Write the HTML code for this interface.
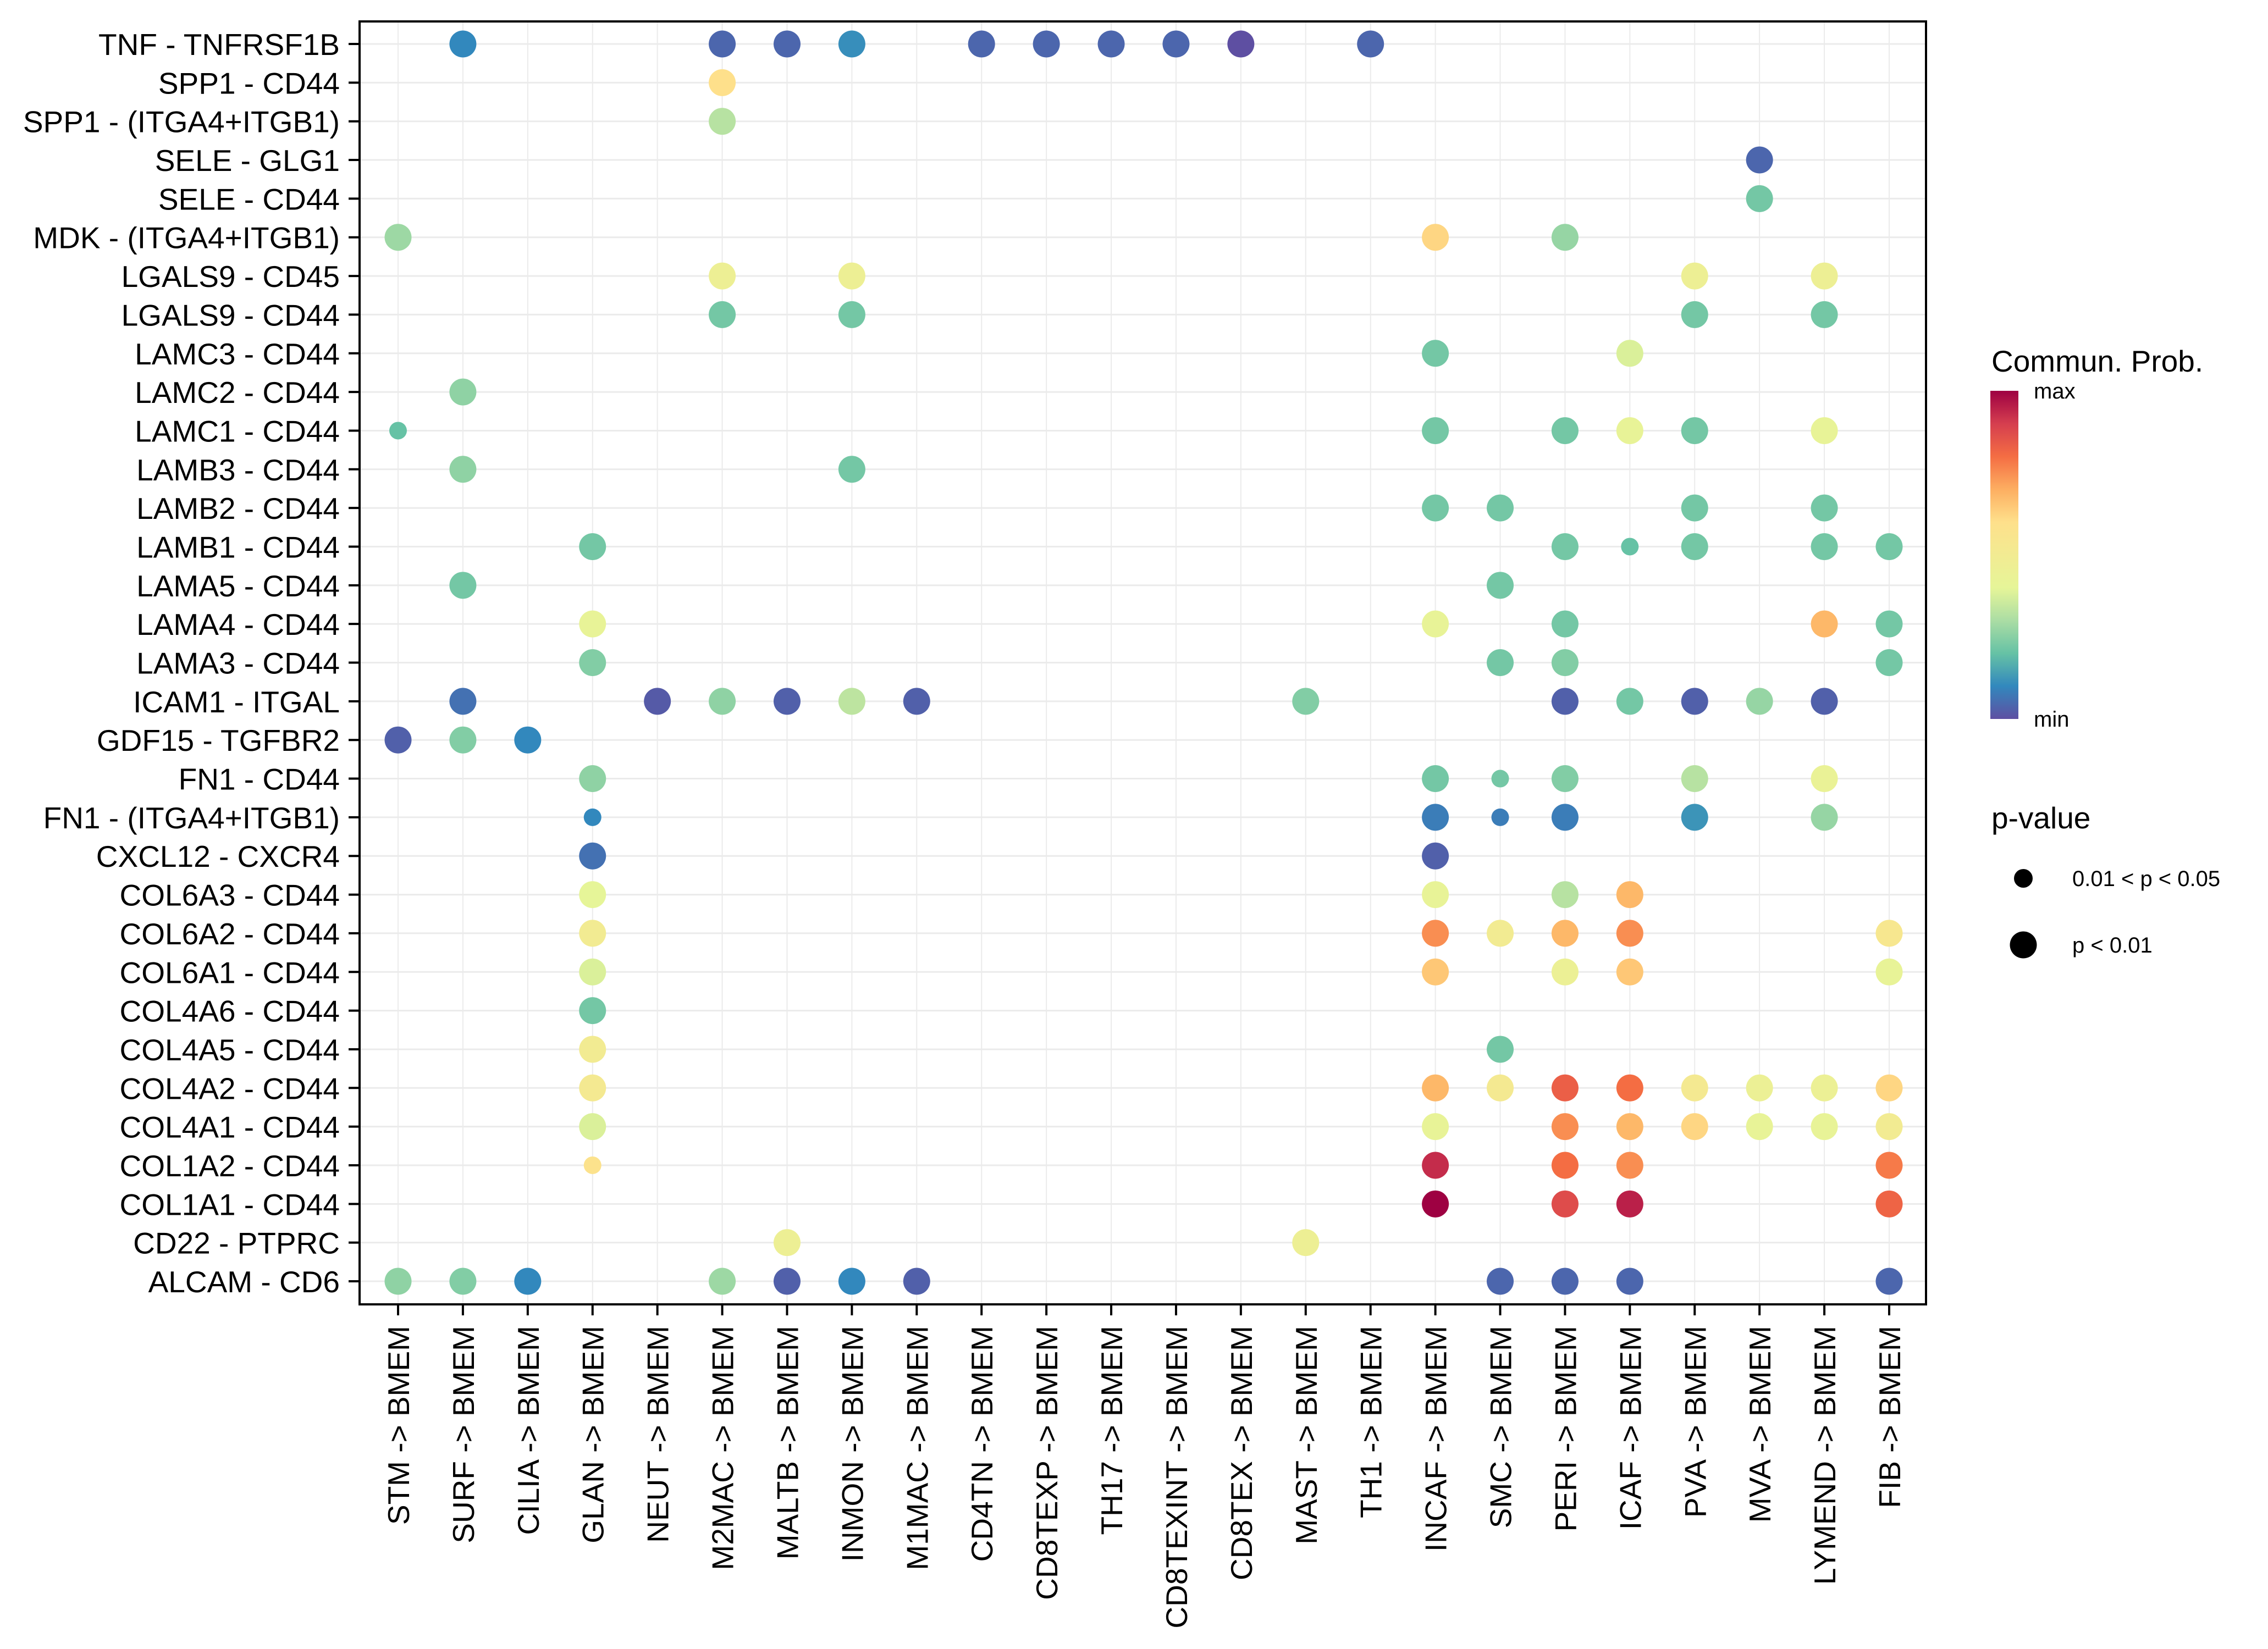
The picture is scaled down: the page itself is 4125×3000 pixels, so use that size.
<!DOCTYPE html>
<html><head><meta charset="utf-8"><style>
html,body{margin:0;padding:0;background:#fff;}
svg{display:block;font-family:"Liberation Sans",sans-serif;}
</style></head><body>
<svg id="chart" width="4125" height="3000" viewBox="0 0 4125 3000" xmlns="http://www.w3.org/2000/svg">
<defs>
<linearGradient id="spec" x1="0" y1="1" x2="0" y2="0">
<stop offset="0" stop-color="#5E4FA2"/><stop offset="0.1" stop-color="#3288BD"/><stop offset="0.2" stop-color="#66C2A5"/><stop offset="0.3" stop-color="#ABDDA4"/><stop offset="0.4" stop-color="#E6F598"/><stop offset="0.5" stop-color="#F2EB92"/><stop offset="0.6" stop-color="#FEE08B"/><stop offset="0.7" stop-color="#FDAE61"/><stop offset="0.8" stop-color="#F46D43"/><stop offset="0.9" stop-color="#D53E4F"/><stop offset="1" stop-color="#9E0142"/>
</linearGradient>
</defs>
<g id="grid"></g>
<g id="points"></g>
<rect x="654" y="39" width="2849" height="2334" fill="none" stroke="#000" stroke-width="4"/>
<g id="axes"></g>
<g>
<text x="3622" y="676" font-size="55">Commun. Prob.</text>
<rect x="3620" y="711" width="51" height="597" fill="url(#spec)"/>
<text x="3699" y="725" font-size="40">max</text>
<text x="3699" y="1322" font-size="40">min</text>
</g>
<g>
<text x="3622" y="1507" font-size="55">p-value</text>
<circle cx="3680" cy="1598" r="17" fill="#000"/>
<text x="3769" y="1612" font-size="40">0.01 &lt; p &lt; 0.05</text>
<circle cx="3680" cy="1719" r="24.5" fill="#000"/>
<text x="3769" y="1733" font-size="40">p &lt; 0.01</text>
</g>
</svg>
<script>
const rowLabels = ["TNF - TNFRSF1B","SPP1 - CD44","SPP1 - (ITGA4+ITGB1)","SELE - GLG1","SELE - CD44","MDK - (ITGA4+ITGB1)","LGALS9 - CD45","LGALS9 - CD44","LAMC3 - CD44","LAMC2 - CD44","LAMC1 - CD44","LAMB3 - CD44","LAMB2 - CD44","LAMB1 - CD44","LAMA5 - CD44","LAMA4 - CD44","LAMA3 - CD44","ICAM1 - ITGAL","GDF15 - TGFBR2","FN1 - CD44","FN1 - (ITGA4+ITGB1)","CXCL12 - CXCR4","COL6A3 - CD44","COL6A2 - CD44","COL6A1 - CD44","COL4A6 - CD44","COL4A5 - CD44","COL4A2 - CD44","COL4A1 - CD44","COL1A2 - CD44","COL1A1 - CD44","CD22 - PTPRC","ALCAM - CD6"];
const colLabels = ["STM -> BMEM","SURF -> BMEM","CILIA -> BMEM","GLAN -> BMEM","NEUT -> BMEM","M2MAC -> BMEM","MALTB -> BMEM","INMON -> BMEM","M1MAC -> BMEM","CD4TN -> BMEM","CD8TEXP -> BMEM","TH17 -> BMEM","CD8TEXINT -> BMEM","CD8TEX -> BMEM","MAST -> BMEM","TH1 -> BMEM","INCAF -> BMEM","SMC -> BMEM","PERI -> BMEM","ICAF -> BMEM","PVA -> BMEM","MVA -> BMEM","LYMEND -> BMEM","FIB -> BMEM"];
const rowCols = [[1,5,6,7,9,10,11,12,13,15],[5],[5],[21],[21],[0,16,18],[5,7,20,22],[5,7,20,22],[16,19],[1],[0,16,18,19,20,22],[1,7],[16,17,20,22],[3,18,19,20,22,23],[1,17],[3,16,18,22,23],[3,17,18,23],[1,4,5,6,7,8,14,18,19,20,21,22],[0,1,2],[3,16,17,18,20,22],[3,16,17,18,20,22],[3,16],[3,16,18,19],[3,16,17,18,19,23],[3,16,18,19,23],[3],[3,17],[3,16,17,18,19,20,21,22,23],[3,16,18,19,20,21,22,23],[3,16,18,19,23],[16,18,19,23],[6,14],[0,1,2,5,6,7,8,17,18,19,23]];
const rowProbs = [[.1,.04,.04,.11,.04,.04,.04,.04,0,.04],[.6],[.32],[.04],[.22],[.28,.62,.27],[.46,.46,.46,.46],[.22,.22,.22,.22],[.22,.38],[.26],[.2,.22,.22,.42,.22,.42],[.26,.22],[.22,.22,.22,.22],[.22,.22,.2,.22,.22,.22],[.22,.22],[.42,.42,.22,.68,.22],[.24,.22,.24,.22],[.06,.02,.26,.03,.33,.03,.24,.03,.22,.03,.27,.03],[.03,.24,.1],[.26,.22,.22,.24,.32,.43],[.1,.08,.08,.08,.12,.27],[.06,.03],[.4,.42,.32,.68],[.5,.75,.5,.68,.75,.54],[.38,.65,.45,.65,.42],[.22],[.5,.22],[.52,.68,.52,.83,.8,.52,.45,.45,.62],[.38,.42,.75,.68,.62,.42,.42,.5],[.58,.93,.8,.75,.78],[1,.87,.95,.82],[.46,.46],[.26,.24,.1,.28,.03,.1,.03,.04,.04,.04,.04]];
const smallDots = ["10-0","13-19","19-17","20-3","20-17","29-3"];

const NS="http://www.w3.org/2000/svg";
const X0=724, DX=(3436-724)/23, Y0=80, DY=(2331-80)/32;
function xPos(i){return X0+i*DX;}
function yPos(j){return Y0+j*DY;}
const stops=["#5E4FA2","#3288BD","#66C2A5","#ABDDA4","#E6F598","#F2EB92","#FEE08B","#FDAE61","#F46D43","#D53E4F","#9E0142"];
function hex(h){return [1,3,5].map(k=>parseInt(h.substr(k,2),16));}
function colorOf(v){v=Math.max(0,Math.min(1,v));const t=v*10;const i=Math.min(9,Math.floor(t));const f=t-i;const a=hex(stops[i]),b=hex(stops[i+1]);return "rgb("+a.map((c,k)=>Math.round(c+(b[k]-c)*f)).join(",")+")";}
function mk(tag,attrs,parent){const e=document.createElementNS(NS,tag);for(const k in attrs)e.setAttribute(k,attrs[k]);parent.appendChild(e);return e;}

const grid=document.getElementById("grid"),axes=document.getElementById("axes"),pts=document.getElementById("points");
rowLabels.forEach((lab,j)=>{
  const y=yPos(j);
  const g=mk("line",{x1:654,x2:3503,y1:y,y2:y,stroke:"#EBEBEB","stroke-width":3},grid);
  
  
  const t=mk("line",{x1:634,x2:654,y1:y,y2:y,stroke:"#000","stroke-width":4},axes);
  
  
  const tx=mk("text",{x:618,y:y+20,"font-size":55,"text-anchor":"end"},axes);
  tx.textContent=lab;
  
  
});
colLabels.forEach((lab,i)=>{
  const x=xPos(i);
  const g=mk("line",{x1:x,x2:x,y1:39,y2:2373,stroke:"#EBEBEB","stroke-width":2},grid);
  
  
  const t=mk("line",{x1:x,x2:x,y1:2373,y2:2393,stroke:"#000","stroke-width":4},axes);
  
  
  const tx=mk("text",{x:0,y:0,"font-size":55,"text-anchor":"end",transform:"translate("+(x+20)+",2412) rotate(-90)"},axes);
  tx.textContent=lab;
  
  
});
rowCols.forEach((cols,j)=>{
  cols.forEach((c,k)=>{
    const small=smallDots.indexOf(j+"-"+c)>=0;
    const p=mk("circle",{cx:xPos(c),cy:yPos(j),r:small?16:24.5,fill:colorOf(rowProbs[j][k])},pts);
    
    
  });
});
</script>
</body></html>
